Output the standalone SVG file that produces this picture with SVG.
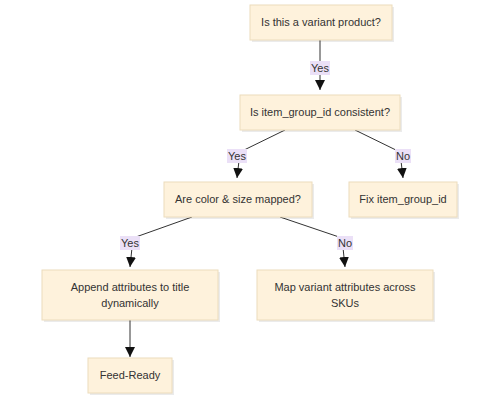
<svg xmlns="http://www.w3.org/2000/svg" width="500" height="400" viewBox="0 0 500 400">
<style>
.box{fill:#fef2dc;stroke:#ecdcbc;stroke-width:1}
.sh{fill:#000;opacity:0.08}
.t{font-family:"Liberation Sans",Arial,sans-serif;font-size:11px;fill:#333;text-anchor:middle}
.e{stroke:#333;stroke-width:1;fill:none}
.lb{fill:#ebe0f7}
</style>
<defs>
<marker id="ah" viewBox="0 0 10 10" refX="10" refY="5" markerWidth="10" markerHeight="10" markerUnits="userSpaceOnUse" orient="auto">
<path d="M0,0 L10,5 L0,10 z" fill="#111"/>
</marker>
</defs>
<rect width="500" height="400" fill="#fff"/>
<g id="connectors">
<path class="e" d="M320,40 L320,90" marker-end="url(#ah)"/>
<rect class="lb" x="310" y="61" width="20" height="14"/>
<text class="t" x="320" y="72">Yes</text>
<path class="e" d="M285,130 L240,152 L237,178" marker-end="url(#ah)"/>
<rect class="lb" x="227" y="149" width="20" height="14"/>
<text class="t" x="237" y="160">Yes</text>
<path class="e" d="M355,130 L400,152 L403,178" marker-end="url(#ah)"/>
<rect class="lb" x="395" y="149" width="16" height="14"/>
<text class="t" x="403" y="160">No</text>
<path class="e" d="M192,217 L133,238 L130,267" marker-end="url(#ah)"/>
<rect class="lb" x="120" y="236" width="20" height="14"/>
<text class="t" x="130" y="247">Yes</text>
<path class="e" d="M280,217 L342,238 L345,267" marker-end="url(#ah)"/>
<rect class="lb" x="337" y="236" width="16" height="14"/>
<text class="t" x="345" y="247">No</text>
<path class="e" d="M130,320 L130,357" marker-end="url(#ah)"/>
</g>
<g id="n1">
<rect class="sh" x="252" y="7" width="142" height="35"/>
<rect class="box" x="250" y="5" width="142" height="35"/>
<text class="t" x="321" y="26">Is this a variant product?</text>
</g>
<g id="n2">
<rect class="sh" x="242" y="97" width="160" height="35"/>
<rect class="box" x="240" y="95" width="160" height="35"/>
<text class="t" x="320" y="116">Is item_group_id consistent?</text>
</g>
<g id="n3">
<rect class="sh" x="166" y="184" width="148" height="35"/>
<rect class="box" x="164" y="182" width="148" height="35"/>
<text class="t" x="238" y="203">Are color &amp; size mapped?</text>
</g>
<g id="n4">
<rect class="sh" x="351" y="184" width="108" height="35"/>
<rect class="box" x="349" y="182" width="108" height="35"/>
<text class="t" x="403" y="203">Fix item_group_id</text>
</g>
<g id="n5">
<rect class="sh" x="44" y="272" width="176" height="50"/>
<rect class="box" x="42" y="270" width="176" height="50"/>
<text class="t" x="130" y="291">Append attributes to title</text>
<text class="t" x="130" y="307">dynamically</text>
</g>
<g id="n6">
<rect class="sh" x="259" y="272" width="176" height="50"/>
<rect class="box" x="257" y="270" width="176" height="50"/>
<text class="t" x="345" y="291">Map variant attributes across</text>
<text class="t" x="345" y="307">SKUs</text>
</g>
<g id="n7">
<rect class="sh" x="90" y="360" width="84" height="35"/>
<rect class="box" x="88" y="358" width="84" height="35"/>
<text class="t" x="130" y="379">Feed-Ready</text>
</g>
</svg>
